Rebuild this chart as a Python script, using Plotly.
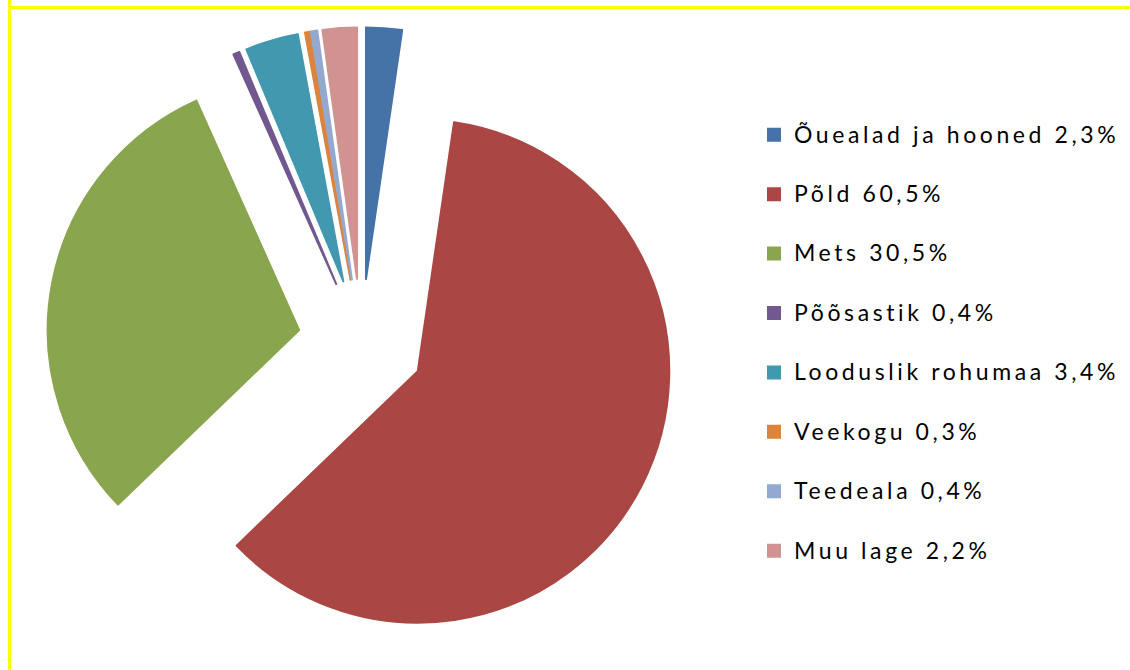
import plotly.graph_objects as go

# Data
categories = ["Õuealad ja hooned", "Põld", "Mets", "Põõsastik",
              "Looduslik rohumaa", "Veekogu", "Teedeala", "Muu lage"]
values = [2.3, 60.5, 30.5, 0.4, 3.4, 0.3, 0.4, 2.2]
value_labels = ["2,3%", "60,5%", "30,5%", "0,4%", "3,4%", "0,3%", "0,4%", "2,2%"]

colors = ["#4572A7", "#AA4643", "#89A54E", "#71588F",
          "#4198AF", "#DB843D", "#93A9CF", "#D19392"]

W, H = 1130, 670

legend_labels = [
    f'<span style="font-size:23px;letter-spacing:3.6px;baseline-shift:9px">{c} {v}</span>'
    for c, v in zip(categories, value_labels)
]

# geometry (pixels)
cx, cy, R, pull = 361.4, 342.2, 251.5, 0.252
half = R * (1 + pull)

fig = go.Figure(
    go.Pie(
        labels=legend_labels,
        values=values,
        sort=False,
        direction="clockwise",
        rotation=0,
        pull=[pull] * len(values),
        marker=dict(colors=colors, line=dict(width=2, color=colors)),
        textinfo="none",
        hoverinfo="none",
        domain=dict(x=[(cx - half) / W, (cx + half) / W],
                    y=[1 - (cy + half) / H, 1 - (cy - half) / H]),
    )
)

fig.update_layout(
    width=W, height=H,
    margin=dict(l=0, r=0, t=0, b=0),
    paper_bgcolor="white",
    plot_bgcolor="white",
    showlegend=True,
    legend=dict(
        x=754 / W, xanchor="left",
        y=1 - 100 / H, yanchor="top",
        font=dict(family="Lato, Carlito, sans-serif", size=43.4, color="#000000"),
        bgcolor="rgba(0,0,0,0)",
        traceorder="normal",
    ),
    shapes=[
        dict(type="rect", xref="paper", yref="paper",
             x0=8 / W, x1=11 / W, y0=0, y1=1,
             fillcolor="#FFFF00", line=dict(width=0), layer="above"),
        dict(type="rect", xref="paper", yref="paper",
             x0=8 / W, x1=1, y0=1 - 9 / H, y1=1 - 6 / H,
             fillcolor="#FFFF00", line=dict(width=0), layer="above"),
    ],
)

fig.write_html("out.html")
